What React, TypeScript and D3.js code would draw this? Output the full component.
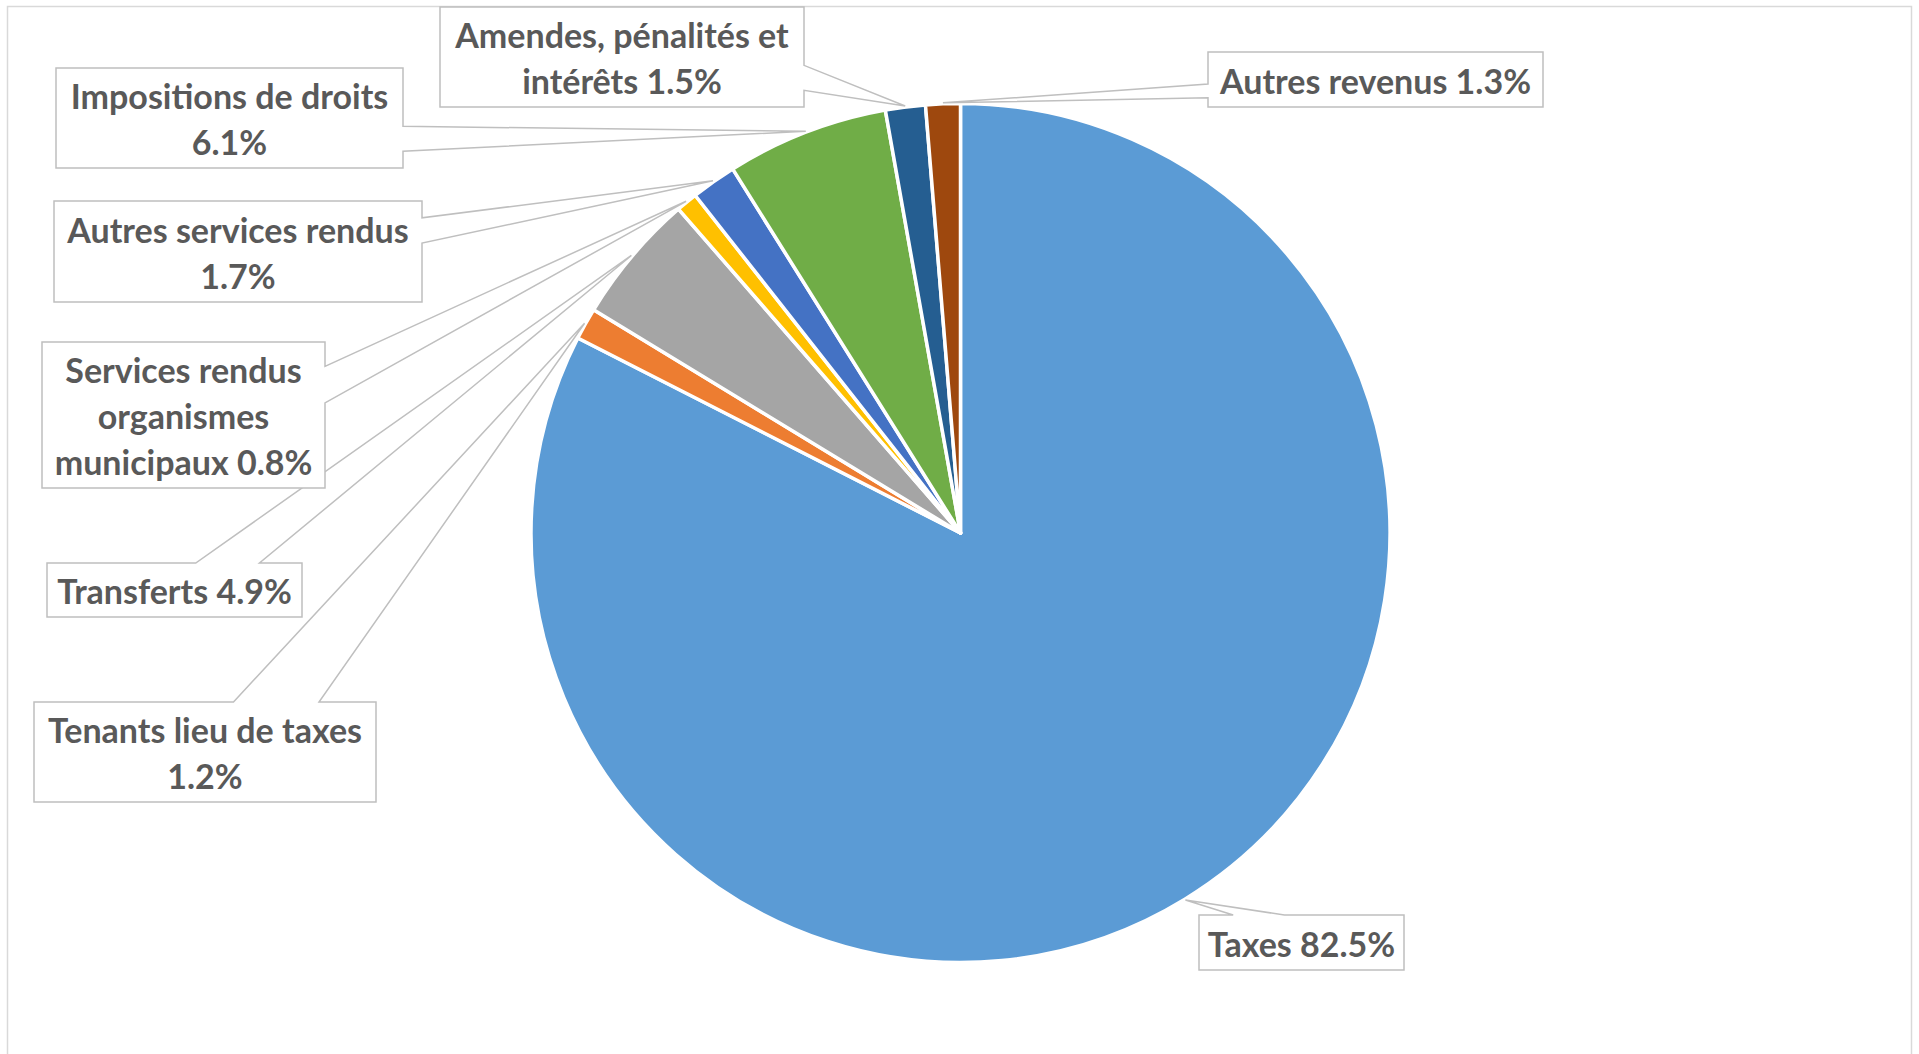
import React from "react";
import * as d3 from "d3";

const categories = [
  "Taxes",
  "Tenants lieu de taxes",
  "Transferts",
  "Services rendus organismes municipaux",
  "Autres services rendus",
  "Impositions de droits",
  "Amendes, pénalités et intérêts",
  "Autres revenus",
];
const values = [82.5, 1.2, 4.9, 0.8, 1.7, 6.1, 1.5, 1.3];
const colors = ["#5B9BD5", "#ED7D31", "#A5A5A5", "#FFC000", "#4472C4", "#70AD47", "#255E91", "#9E480E"];

// layout: label boxes [left, top, right, bottom] and words per line
const labelBoxes: number[][] = [
  [1199, 915, 1404, 970],
  [34, 702, 376, 802],
  [47, 563, 302, 617],
  [42, 342, 325, 488],
  [54, 201, 422, 302],
  [56, 68, 403, 168],
  [440, 7, 804, 107],
  [1208, 52, 1543, 107],
];
const wordsPerLine: number[][] = [[2], [4, 1], [2], [2, 1, 2], [3, 1], [3, 1], [3, 2], [3]];

const W = 1919;
const H = 1054;
const cx = 960.5;
const cy = 533;
const R = 429.5;
const FONT = 34;
const LINE = 46;

function calloutPath(l: number, t: number, r: number, b: number, tx: number, ty: number) {
  const w = r - l, h = b - t;
  const hc = (l + r) / 2, vc = (t + b) / 2;
  const dx = tx - hc, dy = ty - vc;
  const dq = (dx * h) / w;
  const dz = Math.abs(dy) - Math.abs(dq);
  const p = d3.path();
  if (dz > 0) {
    const x1 = l + (w * (dx > 0 ? 7 : 2)) / 12;
    const x2 = l + (w * (dx > 0 ? 10 : 5)) / 12;
    if (dy > 0) {
      p.moveTo(l, t); p.lineTo(r, t); p.lineTo(r, b); p.lineTo(x2, b); p.lineTo(tx, ty); p.lineTo(x1, b); p.lineTo(l, b);
    } else {
      p.moveTo(l, t); p.lineTo(x1, t); p.lineTo(tx, ty); p.lineTo(x2, t); p.lineTo(r, t); p.lineTo(r, b); p.lineTo(l, b);
    }
  } else {
    const y1 = t + (h * (dy > 0 ? 7 : 2)) / 12;
    const y2 = t + (h * (dy > 0 ? 10 : 5)) / 12;
    if (dx > 0) {
      p.moveTo(l, t); p.lineTo(r, t); p.lineTo(r, y1); p.lineTo(tx, ty); p.lineTo(r, y2); p.lineTo(r, b); p.lineTo(l, b);
    } else {
      p.moveTo(l, t); p.lineTo(r, t); p.lineTo(r, b); p.lineTo(l, b); p.lineTo(l, y2); p.lineTo(tx, ty); p.lineTo(l, y1);
    }
  }
  p.closePath();
  return p.toString();
}

export default function App() {
  const data = categories.map((c, i) => ({ c, v: values[i], color: colors[i] }));
  const pie = d3.pie<any>().sort(null).value((d) => d.v).startAngle(0).endAngle(2 * Math.PI);
  const arcs = pie(data);
  const arc = d3.arc<any>().innerRadius(0).outerRadius(R);

  return (
    <svg
      width={W}
      height={H}
      style={{ position: "absolute", left: 0, top: 0, background: "#fff" }}
      fontFamily="Lato, 'Open Sans', sans-serif"
    >
      <rect x={7.5} y={6.5} width={1904} height={1100} fill="#fff" stroke="#D9D9D9" strokeWidth={1.5} />
      <g transform={`translate(${cx},${cy})`}>
        {arcs.map((a, i) => (
          <path key={i} d={arc(a) as string} fill={a.data.color} stroke="#fff" strokeWidth={3.5} strokeLinejoin="round" />
        ))}
      </g>
      {arcs.map((a, i) => {
        const mid = (a.startAngle + a.endAngle) / 2;
        const tx = cx + (R + 1) * Math.sin(mid);
        const ty = cy - (R + 1) * Math.cos(mid);
        const [l, t, r, b] = labelBoxes[i];
        const words = `${a.data.c} ${a.data.v.toFixed(1)}%`.split(" ");
        const lines: string[] = [];
        let k = 0;
        wordsPerLine[i].forEach((n) => {
          lines.push(words.slice(k, k + n).join(" "));
          k += n;
        });
        const n = lines.length;
        const top0 = t + (b - t - n * LINE) / 2;
        return (
          <g key={"l" + i}>
            <path d={calloutPath(l, t, r, b, tx, ty)} fill="#fff" stroke="#BFBFBF" strokeWidth={1.5} />
            {lines.map((s, j) => (
              <text
                key={j}
                x={(l + r) / 2}
                y={top0 + LINE * j + LINE / 2 + FONT * 0.36 + 2}
                textAnchor="middle"
                fontSize={FONT}
                fontWeight={700}
                fill="#595959"
              >
                {s}
              </text>
            ))}
          </g>
        );
      })}
    </svg>
  );
}
